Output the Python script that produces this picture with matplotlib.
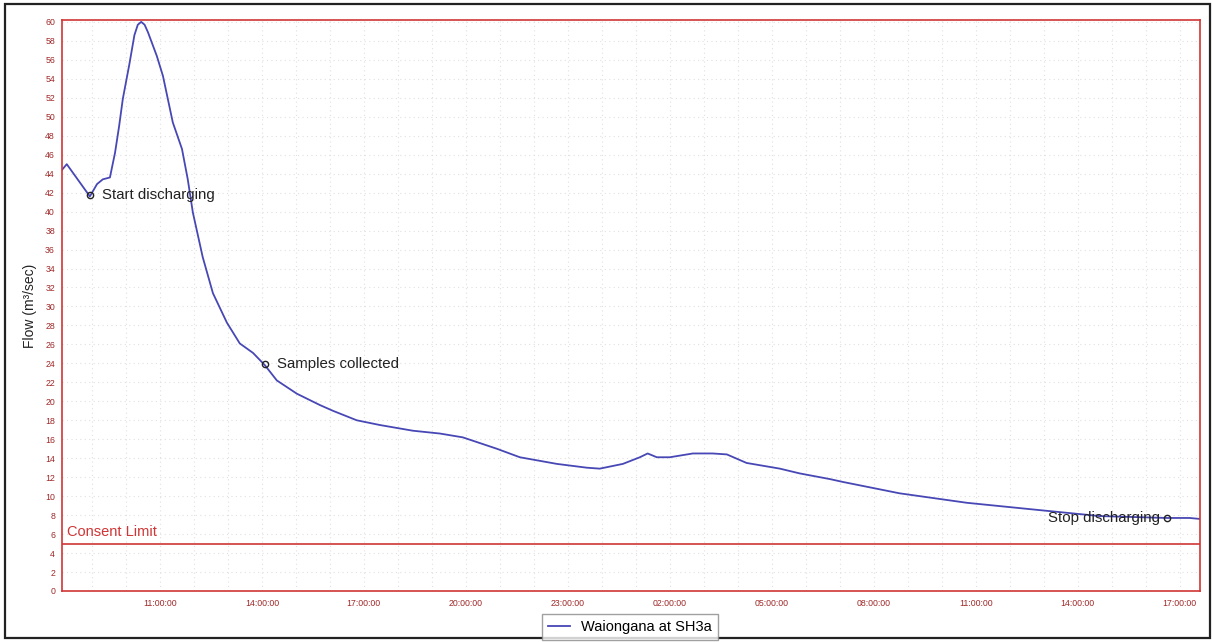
import matplotlib

matplotlib.use("Agg")
import matplotlib.pyplot as plt
from matplotlib.patches import Rectangle
from matplotlib.ticker import FuncFormatter, MultipleLocator, FixedLocator

plt.rcParams["font.family"] = ["Liberation Sans", "DejaVu Sans"]

# Flow record, hours counted from midnight of the first day
hours = [
    8.12, 8.26, 8.94, 9.15, 9.32, 9.53, 9.68, 9.80, 9.91, 10.10, 10.25,
    10.35, 10.45, 10.55, 10.65, 10.91, 11.09, 11.38, 11.65, 11.82, 11.97,
    12.26, 12.56, 12.97, 13.35, 13.74, 14.09, 14.44, 15.03, 15.71, 16.09,
    16.79, 17.47, 18.44, 19.24, 19.91, 20.91, 21.59, 22.68, 23.56, 23.94,
    24.62, 25.12, 25.35, 25.62, 26.00, 26.68, 27.26, 27.68, 28.26, 29.24,
    29.82, 30.71, 31.09, 32.76, 34.74, 36.68, 38.65, 40.62, 41.29, 41.59,
]
flow = [
    44.4, 45.0, 41.6, 42.9, 43.4, 43.6, 46.2, 49.0, 51.9, 55.5, 58.6,
    59.7, 60.0, 59.7, 58.9, 56.4, 54.3, 49.4, 46.6, 43.4, 39.9,
    35.2, 31.4, 28.3, 26.1, 25.1, 23.8, 22.2, 20.8, 19.6, 19.0,
    18.0, 17.5, 16.9, 16.6, 16.2, 15.0, 14.1, 13.4, 13.0, 12.9,
    13.4, 14.1, 14.5, 14.1, 14.1, 14.5, 14.5, 14.4, 13.5, 12.9,
    12.4, 11.8, 11.5, 10.3, 9.3, 8.6, 7.9, 7.7, 7.7, 7.6,
]

event_labels = ["Start discharging", "Samples collected", "Stop discharging"]
event_hours = [8.94, 14.09, 40.62]
event_flow = [41.7, 23.9, 7.7]

consent_limit = 5.0
tick_hours = [11, 14, 17, 20, 23, 26, 29, 32, 35, 38, 41]

RED = "#d03535"
BLUE = "#4747b5"

fig = plt.figure(figsize=(12.12, 6.42), dpi=100)
fig.patches.append(
    Rectangle((5 / 1212, 4 / 642), 1205 / 1212, 634 / 642,
              transform=fig.transFigure, fill=False, edgecolor="#222222",
              linewidth=1.6)
)

ax = fig.add_axes([62 / 1212, 1 - 591 / 642, 1138 / 1212, 571 / 642])
ax.plot(hours, flow, color=BLUE, linewidth=1.3, label="Waiongana at SH3a")

ax.axhline(consent_limit, color=RED, linewidth=1.2)
ax.text(8.27, consent_limit + 0.45, "Consent Limit", color=RED, fontsize=10.5,
        va="bottom", ha="left")

ax.plot(event_hours, event_flow, linestyle="none", marker="o", markersize=4.5,
        markerfacecolor="none", markeredgecolor="#222222", markeredgewidth=1.0)
for label, h, q in zip(event_labels, event_hours, event_flow):
    if h > 35:
        ax.text(h - 0.2, q, label, fontsize=10.8, color="#222222",
                ha="right", va="center")
    else:
        ax.text(h + 0.35, q, label, fontsize=10.8, color="#222222",
                ha="left", va="center")

ax.set_xlim(8.12, 41.6)
ax.set_ylim(0, 60.2)

ax.xaxis.set_major_locator(FixedLocator(tick_hours))
ax.xaxis.set_major_formatter(FuncFormatter(lambda h, _: f"{int(round(h)) % 24:02d}:00:00"))
ax.yaxis.set_major_locator(MultipleLocator(2))
ax.xaxis.set_minor_locator(MultipleLocator(1))

ax.tick_params(axis="both", which="both", length=0, labelsize=6.3, labelcolor="#a02828")
ax.tick_params(axis="x", pad=6)
ax.tick_params(axis="y", pad=5)

ax.grid(which="major", axis="y", color="#e0e0e0", linestyle=(0, (1, 3)), linewidth=0.8)
ax.grid(which="both", axis="x", color="#e0e0e0", linestyle=(0, (1, 3)), linewidth=0.8)

for spine in ax.spines.values():
    spine.set_color(RED)
    spine.set_linewidth(1.2)

ax.set_ylabel("Flow (m³/sec)", fontsize=10, color="#222222", labelpad=6)

fig.legend(loc="center", bbox_to_anchor=(630 / 1212, 1 - 627 / 642),
           fontsize=10.5, frameon=True, fancybox=False, edgecolor="#888888",
           handlelength=1.5, borderpad=0.4)

fig.savefig("out.png", dpi=100)
